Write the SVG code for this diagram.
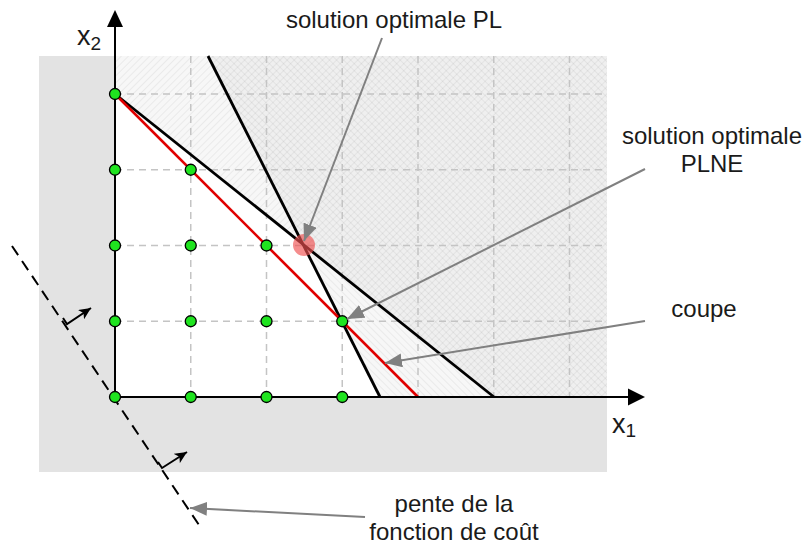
<svg xmlns="http://www.w3.org/2000/svg" width="803" height="545" viewBox="0 0 803 545">
<style>
  text { font-family: "Liberation Sans", Arial, sans-serif; fill: #1a1a1a; }
  .lbl { font-size: 24px; text-anchor: middle; }
  .ax { font-size: 27px; }
  .sub { font-size: 19px; }
  .grid { stroke: #c4c4c4; stroke-width: 1.5; stroke-dasharray: 7 5; fill: none; }
  .axis { stroke: #000; stroke-width: 2; fill: none; }
  .cons { stroke: #000; stroke-width: 2.8; fill: none; }
  .cut { stroke: #e00000; stroke-width: 2.6; fill: none; }
  .pt { fill: #1fe41f; stroke: #000; stroke-width: 1.3; }
  .call { stroke: #808080; stroke-width: 2; fill: none; marker-end: url(#gh); }
  .perp { stroke: #000; stroke-width: 2; fill: none; marker-end: url(#bh); }
</style>
<defs>
  <pattern id="h1" patternUnits="userSpaceOnUse" width="5" height="5" patternTransform="rotate(45)">
    <rect width="5" height="5" fill="#000" fill-opacity="0.03"/>
    <line x1="0" y1="0" x2="0" y2="5" stroke="#000" stroke-opacity="0.05" stroke-width="2"/>
  </pattern>
  <pattern id="h2" patternUnits="userSpaceOnUse" width="5" height="5" patternTransform="rotate(-45)">
    <rect width="5" height="5" fill="#000" fill-opacity="0.03"/>
    <line x1="0" y1="0" x2="0" y2="5" stroke="#000" stroke-opacity="0.05" stroke-width="2"/>
  </pattern>
  <marker id="gh" markerUnits="userSpaceOnUse" markerWidth="18" markerHeight="14" refX="17" refY="7" orient="auto">
    <path d="M0,0 L17,7 L0,14 z" fill="#808080"/>
  </marker>
  <marker id="bh" markerUnits="userSpaceOnUse" markerWidth="13" markerHeight="11" refX="12" refY="5.5" orient="auto">
    <path d="M0,0 L12,5.5 L0,11 L3,5.5 z" fill="#000"/>
  </marker>
</defs>

<g id="background">
  <rect x="39" y="56" width="568" height="416" fill="#e3e3e3"/>
  <rect x="115" y="56" width="492" height="341" fill="#ffffff"/>
  <polygon points="115,56 607,56 607,397 494,397 115,94" fill="url(#h1)"/>
  <polygon points="208,56 607,56 607,397 380,397" fill="url(#h2)"/>
</g>

<g id="grid">
  <path class="grid" d="M190.75,56 V397 M266.5,56 V397 M342.25,56 V397 M418,56 V397 M493.75,56 V397 M569.5,56 V397"/>
  <path class="grid" d="M115,94 H607 M115,169.75 H607 M115,245.5 H607 M115,321.25 H607"/>
</g>

<g id="constraints">
  <line class="cons" x1="115" y1="94" x2="494" y2="397"/>
  <line class="cons" x1="208" y1="56" x2="380" y2="397"/>
  <line class="cut" x1="115" y1="94" x2="418" y2="397"/>
</g>

<g id="axes">
  <line class="axis" x1="115" y1="397" x2="115" y2="26"/>
  <polygon points="115,10 107,27 123,27" fill="#000"/>
  <line class="axis" x1="115" y1="397" x2="629" y2="397"/>
  <polygon points="645,397 628,388.5 628,405.5" fill="#000"/>
  <text class="ax" x="77" y="45">x<tspan class="sub" dy="5">2</tspan></text>
  <text class="ax" x="612" y="433">x<tspan class="sub" dy="4">1</tspan></text>
</g>

<g id="cost-slope">
  <line x1="12" y1="246" x2="201" y2="528" stroke="#000" stroke-width="2" stroke-dasharray="11 7"/>
  <path class="perp" d="M63,318 L67,324 L91,308"/>
  <path class="perp" d="M158,462 L162,468 L187,452"/>
</g>

<g id="lp-optimum">
  <circle cx="304" cy="245" r="11" fill="#f05050" fill-opacity="0.65"/>
</g>

<g id="integer-points">
  <circle class="pt" cx="115" cy="94" r="5.5"/>
  <circle class="pt" cx="115" cy="169.75" r="5.5"/>
  <circle class="pt" cx="190.75" cy="169.75" r="5.5"/>
  <circle class="pt" cx="115" cy="245.5" r="5.5"/>
  <circle class="pt" cx="190.75" cy="245.5" r="5.5"/>
  <circle class="pt" cx="266.5" cy="245.5" r="5.5"/>
  <circle class="pt" cx="115" cy="321.25" r="5.5"/>
  <circle class="pt" cx="190.75" cy="321.25" r="5.5"/>
  <circle class="pt" cx="266.5" cy="321.25" r="5.5"/>
  <circle class="pt" cx="342.25" cy="321.25" r="5.5"/>
  <circle class="pt" cx="115" cy="397" r="5.5"/>
  <circle class="pt" cx="190.75" cy="397" r="5.5"/>
  <circle class="pt" cx="266.5" cy="397" r="5.5"/>
  <circle class="pt" cx="342.25" cy="397" r="5.5"/>
</g>

<g id="connectors">
  <line class="call" x1="382" y1="38" x2="304" y2="241"/>
  <line class="call" x1="645" y1="169" x2="347" y2="319"/>
  <line class="call" x1="645" y1="321" x2="385" y2="363"/>
  <line class="call" x1="365" y1="517" x2="190" y2="508"/>
</g>

<g id="label-pl">
  <text class="lbl" x="394" y="28">solution optimale PL</text>
</g>
<g id="label-plne">
  <text class="lbl" x="712" y="144">solution optimale</text>
  <text class="lbl" x="712" y="172">PLNE</text>
</g>
<g id="label-coupe">
  <text class="lbl" x="704" y="317">coupe</text>
</g>
<g id="label-pente">
  <text class="lbl" x="454" y="512">pente de la</text>
  <text class="lbl" x="454" y="540">fonction de coût</text>
</g>
</svg>
